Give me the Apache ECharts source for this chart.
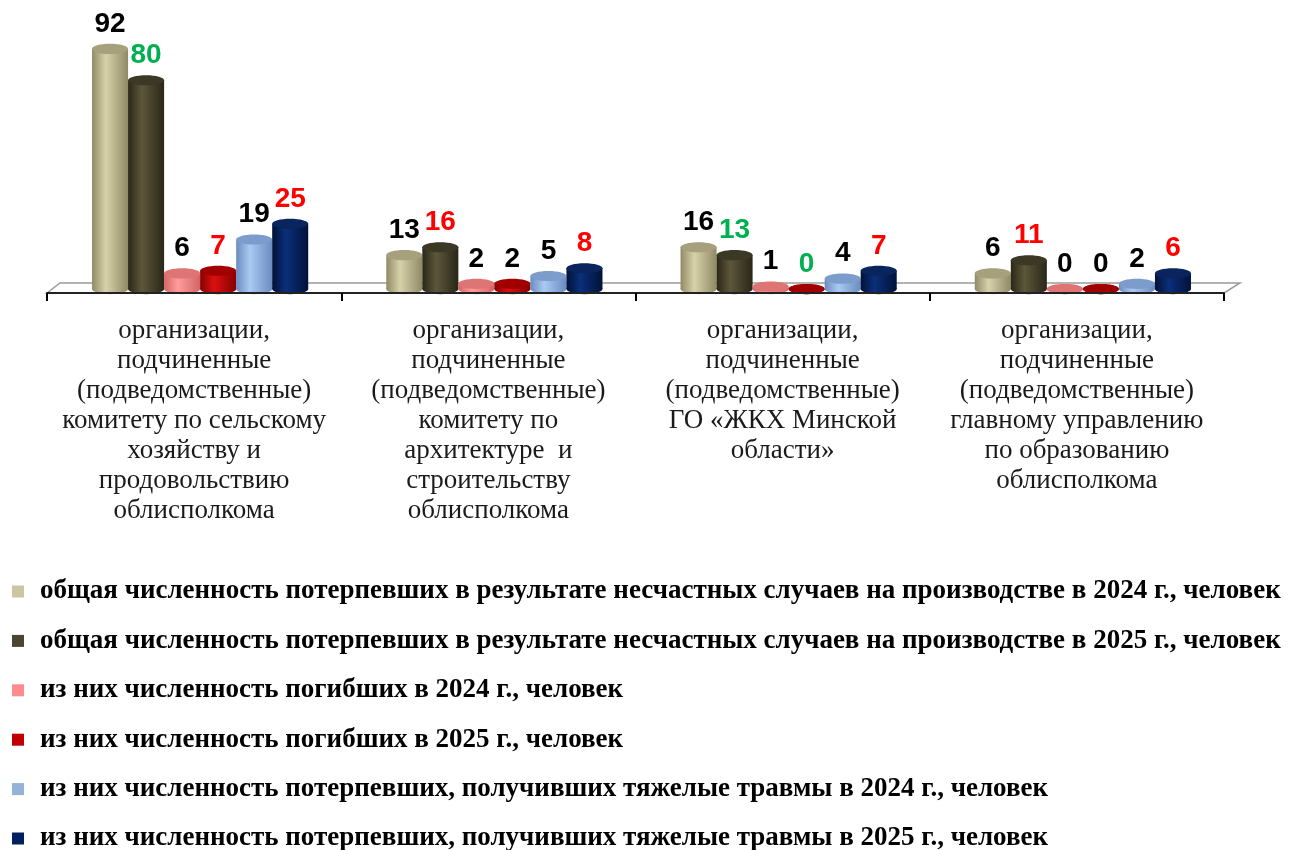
<!DOCTYPE html>
<html>
<head>
<meta charset="utf-8">
<script src="https://cdn.jsdelivr.net/npm/echarts@6/dist/echarts.min.js"></script>
<style>html,body{margin:0;padding:0;background:#fff}#c{width:1299px;height:850px}</style>
</head>
<body>
<div id="c"></div>
<script>
const categories = [
  "организации,\nподчиненные\n(подведомственные)\nкомитету по сельскому\nхозяйству и\nпродовольствию\nоблисполкома",
  "организации,\nподчиненные\n(подведомственные)\nкомитету по\nархитектуре  и\nстроительству\nоблисполкома",
  "организации,\nподчиненные\n(подведомственные)\nГО «ЖКХ Минской\nобласти»",
  "организации,\nподчиненные\n(подведомственные)\nглавному управлению\nпо образованию\nоблисполкома"
];
const seriesNames = [
  "общая численность потерпевших в результате несчастных случаев на производстве в 2024 г., человек",
  "общая численность потерпевших в результате несчастных случаев на производстве в 2025 г., человек",
  "из них численность погибших в 2024 г., человек",
  "из них численность погибших в 2025 г., человек",
  "из них численность потерпевших, получивших тяжелые травмы в 2024 г., человек",
  "из них численность потерпевших, получивших тяжелые травмы в 2025 г., человек"
];
const total2024 = [92, 13, 16, 6];
const total2025 = [80, 16, 13, 11];
const dead2024 = [6, 2, 1, 0];
const dead2025 = [7, 2, 0, 0];
const severe2024 = [19, 5, 4, 2];
const severe2025 = [25, 8, 7, 6];
const allValues = [total2024, total2025, dead2024, dead2025, severe2024, severe2025];

// styles
const BLACK = '#000000', GREEN = '#00B050', RED = '#FF0000';
const labelColors = [
  [BLACK, BLACK, BLACK, BLACK],
  [GREEN, RED, GREEN, RED],
  [BLACK, BLACK, BLACK, BLACK],
  [RED, BLACK, GREEN, BLACK],
  [BLACK, BLACK, BLACK, BLACK],
  [RED, RED, RED, RED]
];
const palette = [
  {legend: '#CCC6A0', dark: '#8f8a66', light: '#d8d2aa', top: '#a6a07c'},
  {legend: '#4A4530', dark: '#2a2718', light: '#5c563a', top: '#3c3826'},
  {legend: '#FF8C8C', dark: '#d46464', light: '#ff9c9c', top: '#df7474'},
  {legend: '#C00000', dark: '#860000', light: '#dc1010', top: '#a20000'},
  {legend: '#95B3D7', dark: '#6a8cc0', light: '#aacaf2', top: '#7c9dcc'},
  {legend: '#002060', dark: '#001238', light: '#0b2f7a', top: '#0a255e'}
];

const chart = echarts.init(document.getElementById('c'));

function makeRender(si) {
  return function (params, api) {
    const cat = api.value(0), val = api.value(1);
    const top = api.coord([cat, val]);
    const base = api.coord([cat, 0]);
    const band = api.size([1, 0])[0];
    const w = band * 36 / 294;
    const x0 = top[0] - 3 * w + si * w + band * 6 / 294;
    const cx = x0 + w / 2;
    const ry = w * 0.14;
    const p = palette[si];
    const grad = new echarts.graphic.LinearGradient(0, 0, 1, 0, [
      {offset: 0, color: p.dark}, {offset: 0.38, color: p.light}, {offset: 1, color: p.dark}
    ]);
    return {
      type: 'group',
      children: [
        {type: 'ellipse', shape: {cx: cx, cy: base[1], rx: w / 2, ry: ry}, style: {fill: grad}},
        {type: 'rect', shape: {x: x0, y: top[1], width: w, height: Math.max(0, base[1] - top[1])}, style: {fill: grad}},
        {type: 'ellipse', shape: {cx: cx, cy: top[1], rx: w / 2, ry: ry}, style: {fill: p.top}},
        {type: 'text', style: {
          text: String(val), x: cx, y: top[1] - 11, align: 'center', verticalAlign: 'bottom',
          fill: labelColors[si][cat], fontFamily: 'Liberation Sans, Arial', fontWeight: 'bold', fontSize: 28
        }}
      ]
    };
  };
}

const series = allValues.map(function (vals, si) {
  return {
    name: seriesNames[si],
    type: 'custom',
    renderItem: makeRender(si),
    itemStyle: {color: palette[si].legend},
    data: vals.map(function (v, ci) { return [ci, v]; }),
    encode: {x: 0, y: 1},
    z: 3
  };
});

chart.setOption({
  animation: false,
  backgroundColor: '#ffffff',
  grid: {left: 47, right: 75, top: 28, bottom: 557},
  graphic: [{
    type: 'polygon', z: 0,
    shape: {points: [[47, 293], [60, 283], [1240, 283], [1224, 293]]},
    style: {fill: '#ffffff', stroke: '#9a9a9a', lineWidth: 1.5}
  }],
  xAxis: {
    type: 'category',
    data: categories,
    z: 5,
    axisLine: {show: true, onZero: false, lineStyle: {color: '#222', width: 2}},
    axisTick: {show: true, length: 8, lineStyle: {color: '#000', width: 2}},
    axisLabel: {
      interval: 0, margin: 23, fontFamily: 'Liberation Serif', fontSize: 27,
      lineHeight: 30, color: '#1a1a1a', align: 'center'
    }
  },
  yAxis: {type: 'value', min: -1.5, max: 100, show: false},
  legend: {
    data: seriesNames,
    orient: 'vertical',
    left: 12, top: 578, height: 300, padding: 0,
    icon: 'rect', itemWidth: 12, itemHeight: 12, itemGap: 22.4,
    selectedMode: false,
    textStyle: {
      fontFamily: 'Liberation Serif', fontWeight: 'bold', fontSize: 27,
      color: '#000', padding: [0, 0, 0, 11]
    }
  },
  series: series
});
</script>
</body>
</html>
